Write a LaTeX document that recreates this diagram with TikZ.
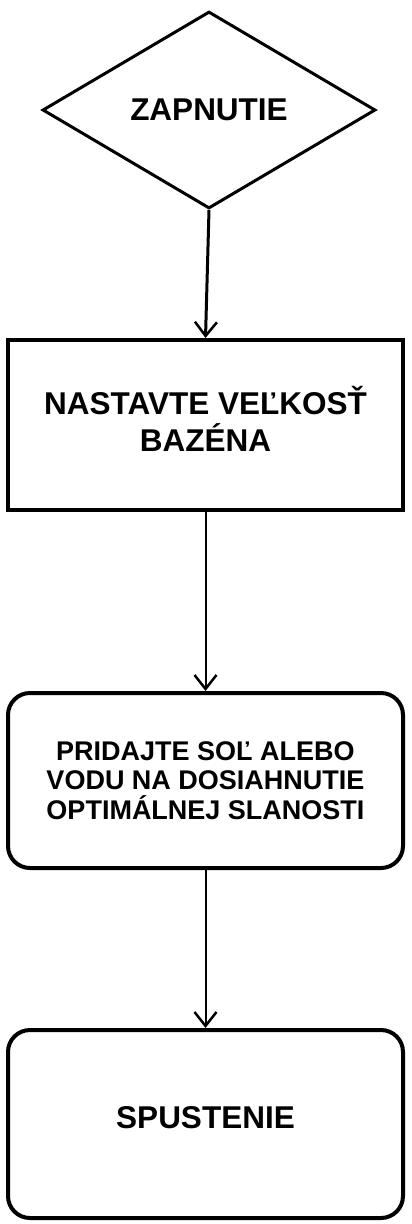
\documentclass[tikz,border=0pt]{standalone}
\usepackage{fontspec}
\setmainfont{Liberation Sans}
\usetikzlibrary{shapes.geometric,arrows.meta}

\begin{document}
\begin{tikzpicture}[x=1pt,y=1pt,
        krok/.style={draw, line width=4pt, minimum width=395pt, inner sep=0pt,
            align=center, font=\bfseries\fontsize{31.5}{37}\selectfont},
        sipka/.style={draw, line width=2pt, -{Straight Barb[length=14pt,width=22pt,line width=2.5pt]}}]
        \useasboundingbox (0,0) rectangle (412,-1224);

        \node[draw, shape=diamond, line width=3pt, minimum width=333pt, minimum height=197pt,
            inner sep=0pt, font=\bfseries\fontsize{31.5}{37}\selectfont] (zap) at (209,-110) {ZAPNUTIE};

        \node[krok, minimum height=170pt, text depth=12pt] (bazen) at (205.5,-425) {NASTAVTE VEĽKOSŤ\\BAZÉNA};

        \node[krok, rounded corners=22pt, minimum height=175pt,
            font=\bfseries\fontsize{27}{29.5}\selectfont] (sol) at (205.5,-780.5)
            {PRIDAJTE SOĽ ALEBO\\VODU NA DOSIAHNUTIE\\OPTIMÁLNEJ SLANOSTI};

        \node[krok, rounded corners=22pt, minimum height=188pt, text depth=14pt] (spust) at (205.5,-1124) {SPUSTENIE};

        \draw [sipka, line width=3pt] (zap.south) -- (bazen.north);

        \draw [sipka] (bazen.south) -- (sol.north);

        \draw [sipka] (sol.south) -- (spust.north);

    \end{tikzpicture}
\end{document}
